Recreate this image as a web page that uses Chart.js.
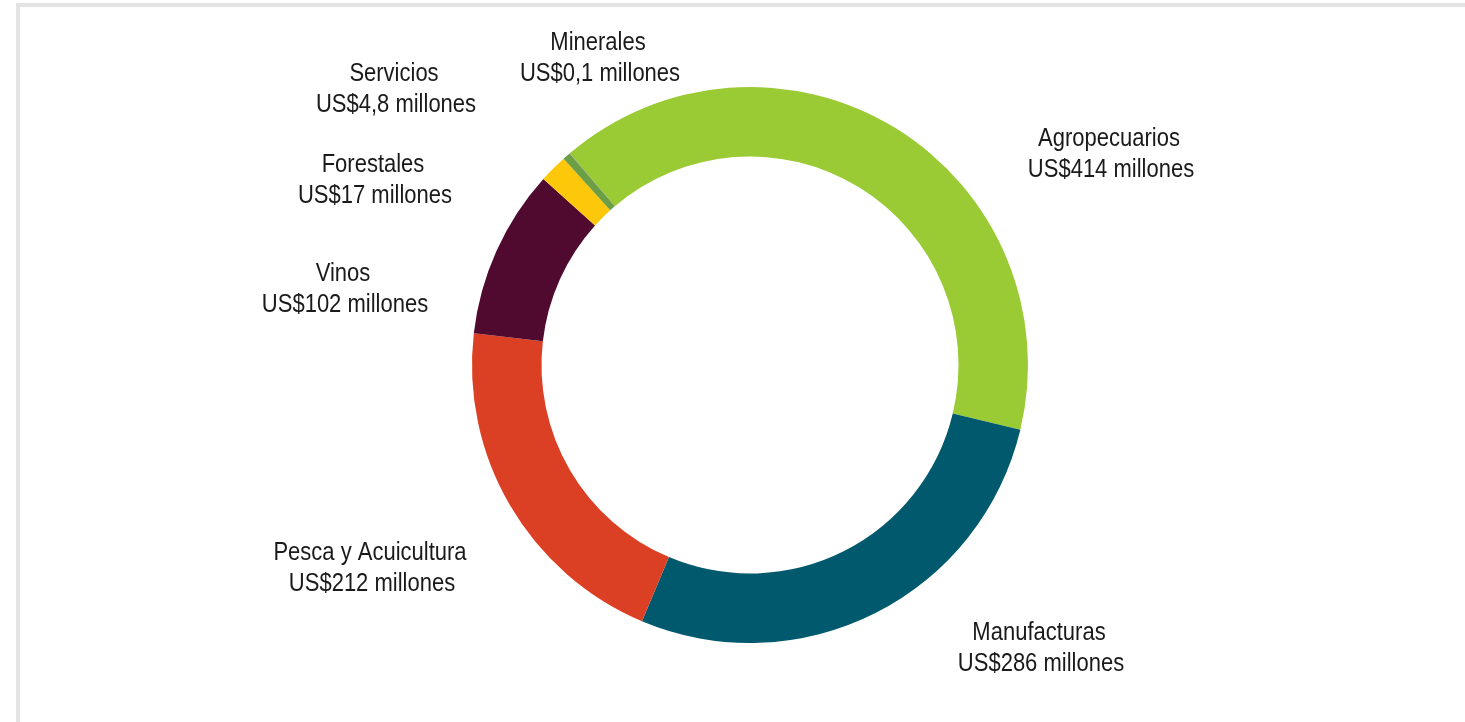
<!DOCTYPE html>
<html>
<head>
<meta charset="utf-8">
<script src="https://cdn.jsdelivr.net/npm/chart.js@4/dist/chart.umd.min.js"></script>
<style>
  html, body { margin: 0; padding: 0; background: #fff; }
  #wrap { position: relative; width: 1465px; height: 722px; overflow: hidden; }
  #frame { position: absolute; left: 16px; top: 3px; width: 1460px; height: 730px;
           border-top: 4px solid #e4e4e4; border-left: 4px solid #e4e4e4; box-sizing: border-box; }
  canvas { position: absolute; left: 0; top: 0; }
</style>
</head>
<body>
<div id="wrap">
  <div id="frame"></div>
  <canvas id="c" width="1465" height="722"></canvas>
</div>
<script>
const categories = ["Agropecuarios", "Manufacturas", "Pesca y Acuicultura", "Vinos", "Forestales", "Servicios", "Minerales"];
const values = [414, 286, 212, 102, 17, 4.8, 0.1];
const valueLabels = ["US$414 millones", "US$286 millones", "US$212 millones", "US$102 millones", "US$17 millones", "US$4,8 millones", "US$0,1 millones"];
const colors = ["#9BCB34", "#00596C", "#DC4024", "#500A30", "#FDC80A", "#6B9E45", "#8A8A8A"];

const labelPlugin = {
  id: 'outerLabels',
  afterDraw(chart, args, opts) {
    const ctx = chart.ctx;
    const put = (txt, x, y) => {
      ctx.save();
      ctx.translate(x, y);
      ctx.scale(opts.scaleX, 1);
      ctx.fillText(txt, 0, 0);
      ctx.restore();
    };
    ctx.save();
    ctx.font = opts.font;
    ctx.fillStyle = opts.color;
    ctx.textAlign = 'center';
    ctx.textBaseline = 'middle';
    categories.forEach((cat, i) => {
      const p = opts.anchors[i];
      put(cat, p[0], p[1]);
      put(valueLabels[i], p[0] + 2, p[1] + opts.lineGap);
    });
    ctx.restore();
  }
};

new Chart(document.getElementById('c'), {
  type: 'doughnut',
  data: {
    labels: categories,
    datasets: [{
      data: values,
      backgroundColor: colors,
      borderWidth: 0
    }]
  },
  options: {
    responsive: false,
    animation: false,
    rotation: -40.4,
    cutout: '75%',
    layout: { padding: { left: 472, right: 437, top: 87, bottom: 79 } },
    plugins: {
      legend: { display: false },
      tooltip: { enabled: false },
      outerLabels: {
        font: '25px "Liberation Sans", Arial, sans-serif',
        scaleX: 0.88,
        color: '#1a1a1a',
        lineGap: 31,
        anchors: [
          [1109, 139], [1039, 633], [370, 553], [343, 274], [373, 165], [394, 74], [598, 43]
        ]
      }
    }
  },
  plugins: [labelPlugin]
});
</script>
</body>
</html>
